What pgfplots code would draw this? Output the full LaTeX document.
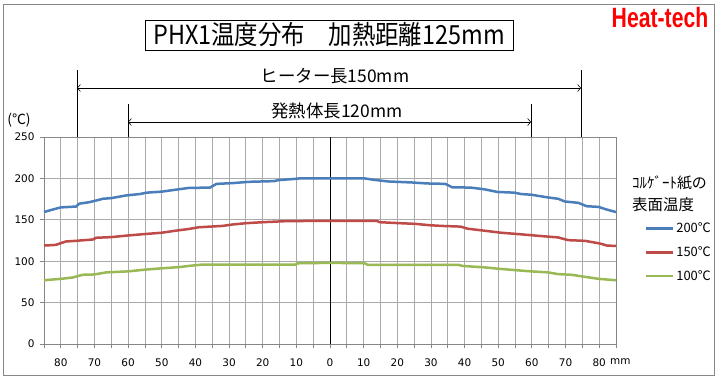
\documentclass[border=0pt]{standalone}
\usepackage{pgfplots}
\pgfplotsset{compat=1.18}
\usepackage{fontspec}
\usepackage{graphicx}
\usetikzlibrary{arrows.meta}
\setmainfont{DejaVu Sans}
\newfontfamily\jp{Noto Sans CJK JP}
\newfontfamily\logofont{Liberation Sans}
\definecolor{cblue}{RGB}{74,126,187}
\definecolor{cred}{RGB}{190,75,72}
\definecolor{cgreen}{RGB}{152,185,84}
\definecolor{gridc}{RGB}{170,170,170}
\definecolor{axc}{RGB}{134,134,134}
\definecolor{logored}{RGB}{255,0,0}
\begin{document}
\begin{tikzpicture}
\path[use as bounding box] (0bp,0bp) rectangle (722bp,-382bp);
\fill[white] (0bp,0bp) rectangle (722bp,-382bp);
\draw[axc, line width=1bp] (3bp,-4bp) rectangle (714bp,-375bp);
% title
\draw[black, line width=1bp] (145bp,-20bp) rectangle (513bp,-50bp);
\node[font=\jp\fontsize{24}{27}\selectfont, inner sep=0pt] at (329bp,-35bp) {\scalebox{0.98}[1.1]{PHX1温度分布　加熱距離125mm}};
% logo
\node[font=\logofont\bfseries\fontsize{28}{30}\selectfont, text=logored, inner sep=0pt] at (660bp,-18bp) {\scalebox{0.76}[1]{Heat-tech}};
% dimension lines
\node[font=\jp\fontsize{17.5}{20}\selectfont, inner sep=0pt] at (335bp,-76bp) {ヒーター長150mm};
\draw[black, line width=0.6bp] (77bp,-70bp) -- (77bp,-137bp);
\draw[black, line width=0.6bp] (581bp,-70bp) -- (581bp,-137bp);
\draw[black, line width=0.6bp, {Straight Barb[length=3bp,width=7bp]}-{Straight Barb[length=3bp,width=7bp]}] (77bp,-88bp) -- (581bp,-88bp);
\node[font=\jp\fontsize{17.5}{20}\selectfont, inner sep=0pt] at (337bp,-111bp) {発熱体長120mm};
\draw[black, line width=0.6bp] (128bp,-104bp) -- (128bp,-137bp);
\draw[black, line width=0.6bp] (531bp,-104bp) -- (531bp,-137bp);
\draw[black, line width=0.6bp, {Straight Barb[length=3bp,width=7bp]}-{Straight Barb[length=3bp,width=7bp]}] (128bp,-122bp) -- (531bp,-122bp);
% unit labels
\node[font=\jp\fontsize{14}{16}\selectfont, inner sep=0pt] at (19bp,-120bp) {(℃)};
\node[font=\fontsize{10.5}{12}\selectfont, inner sep=0pt, anchor=west] at (610bp,-362bp) {mm};
% legend title
\node[font=\jp\fontsize{15}{18}\selectfont, inner sep=0pt, anchor=west] at (632bp,-183bp) {ｺﾙｹﾞｰﾄ紙の};
\node[font=\jp\fontsize{15.5}{18}\selectfont, inner sep=0pt, anchor=west] at (632bp,-205bp) {表面温度};
\begin{axis}[
  at={(44bp,-344bp)}, anchor=south west,
  width=572bp, height=207bp, scale only axis,
  xmin=-85, xmax=85, ymin=0, ymax=250,
  xtick={-80,-70,...,80},
  xticklabels={80,70,60,50,40,30,20,10,0,10,20,30,40,50,60,70,80},
  minor xtick={-85,-75,...,85},
  ytick={0,50,...,250},
  grid=both,
  major grid style={gridc, line width=0.8bp},
  minor grid style={gridc, line width=0.8bp},
  axis line style={axc, line width=0.8bp},
  tick style={axc, line width=0.8bp},
  tick align=outside,
  major tick length=4bp, minor tick length=4bp,
  xtick pos=bottom, ytick pos=left,
  /pgf/number format/assume math mode=true,
  tick label style={font=\fontsize{10.5}{12}\selectfont},
  xticklabel style={yshift=-7bp},
  yticklabel style={xshift=-2bp},
  clip=false,
  legend style={at={(axis description cs:1.05,0.596)}, anchor=north west, draw=none, fill=none,
    font=\jp\fontsize{13}{15}\selectfont, row sep=8.5bp, inner sep=0pt,
    /tikz/every even column/.append style={column sep=1bp}},
  legend cell align=left,
  legend image code/.code={\draw[#1, line width=2.5bp] (0bp,0bp) -- (27bp,0bp);},
]
\draw[black, line width=0.8bp] (axis cs:0,0) -- (axis cs:0,250);
\addplot[cblue, line width=2.5bp] coordinates {
(-85,159.4) (-82.5,162.3) (-80,165) (-75.5,166) (-74.5,169.5) (-71.5,171.3) (-69,173.8) (-67.5,175.4) (-65,176.2) (-60.5,179.5) (-56.5,181.1) (-54.5,182.8) (-50,184) (-46.5,186) (-42,188.5) (-35.7,188.9) (-33.7,193.4) (-29,194.3) (-24,195.9) (-16.7,196.7) (-15.2,198) (-11,199.2) (-9,200) (0,200) (10.3,200) (12.8,198.4) (17.3,196.3) (24.3,195.1) (28.8,193.9) (34.3,193.4) (36.3,189.3) (41.8,188.9) (45.8,186.9) (49.8,183.6) (54.8,182.8) (56.8,181.1) (59.8,180.3) (64.8,177) (67.8,175.4) (69.8,172.1) (73.8,170.5) (76.3,166.4) (79.8,165.6) (82.3,162.3) (85,159.4)};
\addlegendentry{200℃}
\addplot[cred, line width=2.5bp] coordinates {
(-85,118.9) (-81.5,119.7) (-78.5,123.8) (-75.5,124.6) (-70.5,126.2) (-69.5,128.3) (-65,129.1) (-60,131.1) (-55,132.8) (-50,134.4) (-46.5,136.5) (-42,138.9) (-39,141) (-32,142.6) (-29,144.3) (-25,145.9) (-20,147.1) (-13,148.4) (0,148.8) (13.8,148.8) (14.8,147.1) (20.8,145.9) (25.3,145.1) (29.8,143.4) (33.3,142.6) (38.8,141.8) (40.8,139.3) (45.8,136.9) (50.8,134.4) (55.8,132.8) (61.8,130.7) (67.8,128.7) (70.8,125.4) (75.8,124.6) (80.3,121.3) (82.3,118.9) (85,118.4)};
\addlegendentry{150℃}
\addplot[cgreen, line width=2.5bp] coordinates {
(-85,77) (-80,78.7) (-76.5,80.3) (-73.5,83.6) (-70,84) (-66.5,86.5) (-60,87.7) (-55,89.8) (-50,91.4) (-44.5,93) (-42,94.3) (-38,95.9) (-10.2,95.9) (-9.7,97.5) (0,98) (10.3,97.5) (11.3,95.5) (38.3,95.5) (39.3,94.3) (45.8,92.6) (49.8,91) (54.8,89.3) (59.8,87.7) (64.8,86.5) (67.8,84.4) (71.8,83.6) (75.8,81.1) (79.8,78.7) (85,77)};
\addlegendentry{100℃}
\end{axis}
\end{tikzpicture}
\end{document}
